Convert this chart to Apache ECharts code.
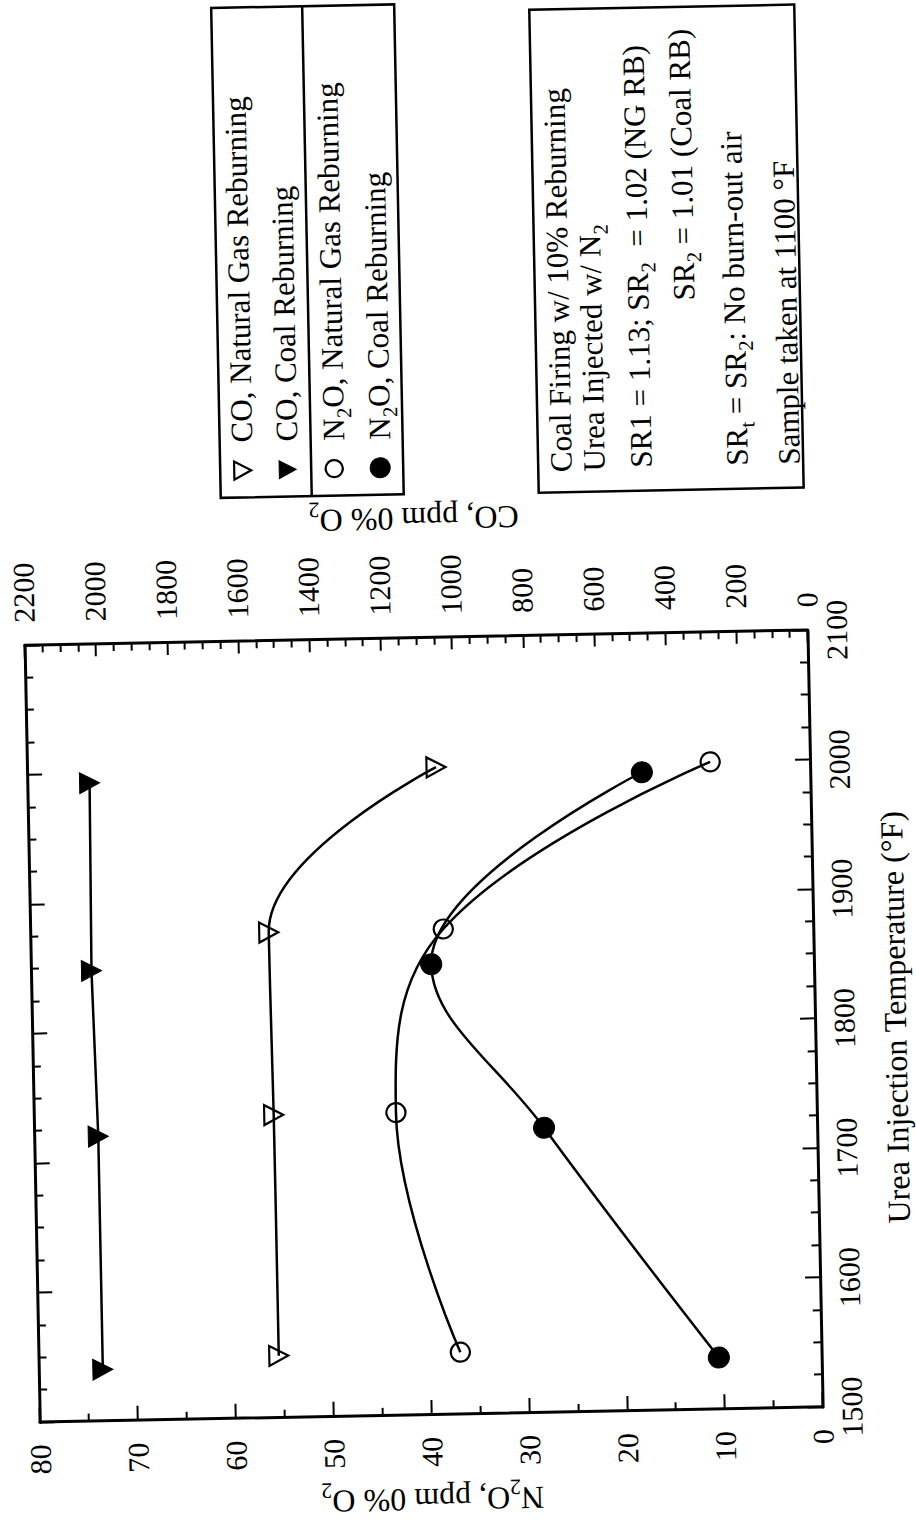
<!DOCTYPE html>
<html>
<head>
<meta charset="utf-8">
<script src="https://cdn.jsdelivr.net/npm/echarts@6/dist/echarts.min.js"></script>
<style>
  html, body { margin: 0; padding: 0; background: #fff; width: 916px; height: 1529px; overflow: hidden; }
  /* The figure is laid out landscape and turned a quarter turn counter-clockwise on the page */
  #page {
    position: absolute; left: -85px; top: 596px;
    width: 1529px; height: 916px;
    transform-origin: 509px 424px;
    transform: rotate(-91.12deg);
  }
</style>
</head>
<body>
<div id="page"></div>
<script>
// Urea injection temperatures (°F) for each reburning fuel
const tempNG   = [1548, 1734, 1875, 2000];
const tempCoal = [1540, 1720, 1848, 1993];

// CO, ppm 0% O2 (right axis)
const coNG   = [1525, 1526, 1530, 1051];
const coCoal = [2020, 2020, 2030, 2025];

// N2O, ppm 0% O2 (left axis)
const n2oNG   = [36.9, 43.0, 37.8, 10.2];
const n2oCoal = [10.5, 27.9, 39.1, 17.2];

// Axis ranges: [min, max, step]
const tempAxis = [1500, 2100, 100];
const n2oAxis  = [0, 80, 10];
const coAxis   = [0, 2200, 200];

// Legend entries (rich text) and the run-conditions note
const legendLabels = [
  '{m|CO, Natural Gas Reburning}',
  '{m|CO, Coal Reburning}',
  '{m|N}{s|2}{m|O, Natural Gas Reburning}',
  '{m|N}{s|2}{m|O, Coal Reburning}'
];
const noteLines = [
  '{m|Coal Firing w/ 10% Reburning}',
  '{m|Urea Injected w/ N}{s|2}',
  '{m|SR1 = 1.13; SR}{s|2}{m|  = 1.02 (NG RB)}',
  '{m|SR}{s|2}{m| = 1.01 (Coal RB)}',
  '{m|SR}{s|t}{m| = SR}{s|2}{m|: No burn-out air}',
  '{m|Sample taken at 1100 °F}'
];

const FONT = '"Liberation Serif", "Times New Roman", "DejaVu Serif", serif';
const INK = '#000';

function rich(size) {
  const sub = Math.round(size * 0.68);
  return {
    m: { fontFamily: FONT, fontSize: size, color: INK, verticalAlign: 'top', lineHeight: size },
    s: { fontFamily: FONT, fontSize: sub, color: INK, verticalAlign: 'top', lineHeight: sub,
         padding: [Math.round(size * 0.5), 0, 0, 0] }
  };
}

const pairs = (xs, ys) => xs.map((x, i) => [x, ys[i]]);
const plain = v => String(v);

const tickStyle = { color: INK, width: 2 };
const axisLine = { show: true, onZero: false, lineStyle: { color: INK, width: 3 } };
const labelFont = { fontFamily: FONT, fontSize: 30, color: INK, formatter: plain };

function valueAxis(range, extra) {
  return Object.assign({
    type: 'value', min: range[0], max: range[1], interval: range[2],
    axisLine: axisLine,
    axisTick: { show: true, inside: true, length: 15, lineStyle: tickStyle },
    minorTick: { show: true, length: 8, lineStyle: tickStyle },
    splitLine: { show: false },
    minorSplitLine: { show: false }
  }, extra);
}

const lineCommon = {
  type: 'line',
  lineStyle: { color: INK, width: 2.5 },
  emphasis: { disabled: true },
  z: 3
};

// Legend block: boxed, with a rule between the CO and N2O groups
const legBox = { x: 1035, y: 231, w: 490, h: 183 };
const legRows = [253, 298, 345, 391];
const legDivider = 322;
const legMarkerX = 1062;
const legTextX = 1090;

function legendMarker(i, cy) {
  const open = (i % 2 === 0);
  const style = open ? { fill: 'none', stroke: INK, lineWidth: 2.2 } : { fill: INK, stroke: INK, lineWidth: 1 };
  if (i < 2) {
    return { type: 'polygon', shape: { points: [[legMarkerX - 9, cy - 8], [legMarkerX + 9, cy - 8], [legMarkerX, cy + 9]] }, style: style };
  }
  return { type: 'circle', shape: { cx: legMarkerX, cy: cy, r: open ? 8.5 : 10 }, style: style };
}

const legendGraphics = [
  { type: 'rect', shape: { x: legBox.x, y: legBox.y, width: legBox.w, height: legBox.h },
    style: { fill: 'none', stroke: INK, lineWidth: 2.5 } },
  { type: 'line', shape: { x1: legBox.x, y1: legDivider, x2: legBox.x + legBox.w, y2: legDivider },
    style: { stroke: INK, lineWidth: 2.5 } }
];
legendLabels.forEach((t, i) => {
  legendGraphics.push(legendMarker(i, legRows[i]));
  legendGraphics.push({ type: 'text', x: legTextX, y: legRows[i] - 15.5,
    style: { text: t, rich: rich(31), align: 'left', verticalAlign: 'top' } });
});

// Run-conditions note box
const noteBox = { x: 1034, y: 549, w: 483, h: 265 };
const noteRows = [572, 605, 652, 698, 748, 800];
const noteX = [1054, 1054, 1057, 1495, 1057, 1057];
const noteAlign = ['left', 'left', 'left', 'right', 'left', 'left'];
const noteGraphics = [
  { type: 'rect', shape: { x: noteBox.x, y: noteBox.y, width: noteBox.w, height: noteBox.h },
    style: { fill: 'none', stroke: INK, lineWidth: 2.5 } }
];
noteLines.forEach((t, i) => {
  noteGraphics.push({ type: 'text', x: noteX[i], y: noteRows[i] - 15.5,
    style: { text: t, rich: rich(31), align: noteAlign[i], verticalAlign: 'top' } });
});

const chart = echarts.init(document.getElementById('page'), null, { renderer: 'svg' });
chart.setOption({
  animation: false,
  backgroundColor: '#fff',
  grid: { left: 114, top: 32, width: 777, height: 787, containLabel: false },
  xAxis: [
    valueAxis(tempAxis, {
      position: 'bottom',
      minorTick: { show: true, splitNumber: 4, length: 8, lineStyle: tickStyle },
      axisLabel: Object.assign({ margin: 14, showMinLabel: true, showMaxLabel: true }, labelFont),
      name: 'Urea Injection Temperature (°F)',
      nameLocation: 'middle', nameGap: 64,
      nameTextStyle: { fontFamily: FONT, fontSize: 32, color: INK }
    }),
    valueAxis(tempAxis, {
      position: 'top',
      minorTick: { show: true, splitNumber: 4, length: 8, lineStyle: tickStyle },
      axisLabel: { show: false }
    })
  ],
  yAxis: [
    valueAxis(n2oAxis, {
      position: 'left',
      minorTick: { show: true, splitNumber: 2, length: 8, lineStyle: tickStyle },
      axisLabel: Object.assign({ margin: 22, showMinLabel: true, showMaxLabel: true }, labelFont),
      name: '{m|N}{s|2}{m|O, ppm 0% O}{s|2}',
      nameLocation: 'middle', nameRotate: 90, nameGap: 67,
      nameTextStyle: { rich: rich(32) }
    }),
    valueAxis(coAxis, {
      position: 'right',
      axisTick: { show: true, inside: true, length: 12, lineStyle: tickStyle },
      minorTick: { show: true, splitNumber: 4, length: 7, lineStyle: tickStyle },
      axisLabel: Object.assign({ margin: 23, showMinLabel: true, showMaxLabel: true }, labelFont),
      name: '{m|CO, ppm 0% O}{s|2}',
      nameLocation: 'middle', nameRotate: 90, nameGap: 103,
      nameTextStyle: { rich: rich(32) }
    })
  ],
  series: [
    Object.assign({}, lineCommon, {
      name: 'CO, Natural Gas Reburning', xAxisIndex: 0, yAxisIndex: 1,
      data: pairs(tempNG, coNG), smooth: 0.4,
      symbol: 'triangle', symbolRotate: 180, symbolSize: [20, 19],
      itemStyle: { color: 'rgba(0,0,0,0)', borderColor: INK, borderWidth: 2.2 }
    }),
    Object.assign({}, lineCommon, {
      name: 'CO, Coal Reburning', xAxisIndex: 0, yAxisIndex: 1,
      data: pairs(tempCoal, coCoal), smooth: false,
      symbol: 'triangle', symbolRotate: 180, symbolSize: [21, 20],
      itemStyle: { color: INK, borderColor: INK, borderWidth: 1 }
    }),
    Object.assign({}, lineCommon, {
      name: 'N2O, Natural Gas Reburning', xAxisIndex: 0, yAxisIndex: 0,
      data: pairs(tempNG, n2oNG), smooth: 0.4,
      symbol: 'circle', symbolSize: 19,
      itemStyle: { color: 'rgba(0,0,0,0)', borderColor: INK, borderWidth: 2.2 }
    }),
    Object.assign({}, lineCommon, {
      name: 'N2O, Coal Reburning', xAxisIndex: 0, yAxisIndex: 0,
      data: pairs(tempCoal, n2oCoal), smooth: 0.4,
      symbol: 'circle', symbolSize: 21,
      itemStyle: { color: INK, borderColor: INK, borderWidth: 1 }
    })
  ],
  graphic: [
    { type: 'group', children: legendGraphics },
    { type: 'group', children: noteGraphics }
  ]
});
</script>
</body>
</html>
